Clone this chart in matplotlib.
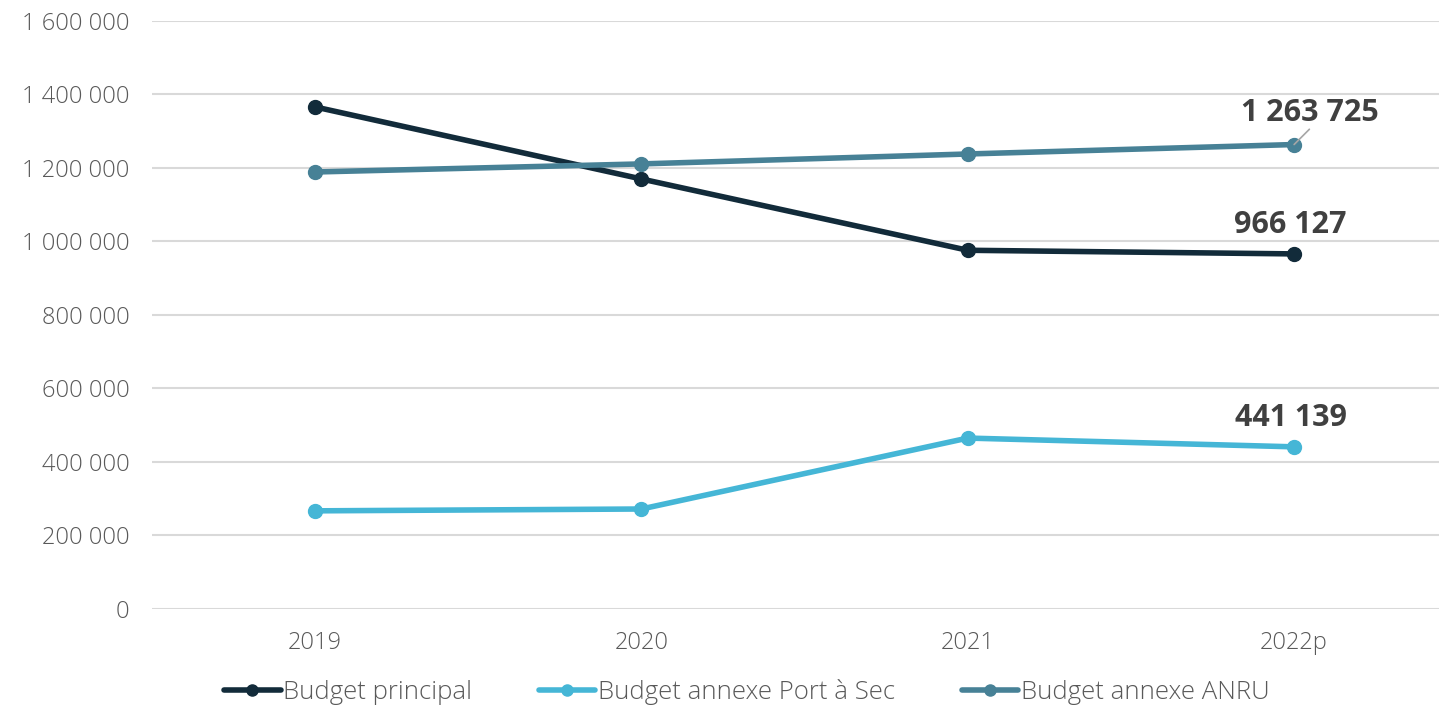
import matplotlib.pyplot as plt
from matplotlib.ticker import FuncFormatter

years = ["2019", "2020", "2021", "2022p"]
budget_principal = [1366000, 1170000, 976000, 966127]
budget_port_sec = [267000, 272000, 465000, 441139]
budget_anru = [1189000, 1211000, 1238000, 1263725]

series = [
    ("Budget principal", budget_principal, "#122b3a"),
    ("Budget annexe Port à Sec", budget_port_sec, "#45b6d6"),
    ("Budget annexe ANRU", budget_anru, "#478196"),
]

plt.rcParams["font.family"] = ["Open Sans", "DejaVu Sans"]


def fr_thousands(v, pos=None):
    return f"{int(v):,}".replace(",", " ")


fig = plt.figure(figsize=(14.39, 7.10), dpi=100)
ax = fig.add_axes([0.1056, 0.1423, 0.8944, 0.8282])

x = list(range(len(years)))
for name, vals, color in series:
    ax.plot(x, vals, color=color, lw=4, marker="o", ms=10, label=name,
            solid_capstyle="round")

ax.set_ylim(0, 1600000)
ax.set_xlim(-0.5, 3.444)
ax.set_yticks(range(0, 1600001, 200000))
ax.yaxis.set_major_formatter(FuncFormatter(fr_thousands))
ax.set_xticks(x)
ax.set_xticklabels(years)
ax.grid(axis="y", color="#d9d9d9", lw=1.5)
ax.set_axisbelow(True)
for s in ax.spines.values():
    s.set_visible(False)
ax.tick_params(length=0, labelsize=17, labelcolor="#595959")
ax.tick_params(axis="x", pad=16)
ax.tick_params(axis="y", pad=16)
for lab in ax.get_xticklabels() + ax.get_yticklabels():
    lab.set_fontweight("light")

# end-point labels
last = len(years) - 1
ax.annotate(fr_thousands(budget_anru[last]), (last, budget_anru[last]),
            xytext=(11, 23), textcoords="offset points", ha="center", va="center",
            fontsize=22, fontweight="bold", color="#404040")
ax.annotate("", (last, budget_anru[last]), xytext=(11, 11),
            textcoords="offset points",
            arrowprops=dict(arrowstyle="-", color="#a6a6a6", lw=1.2,
                            shrinkA=0, shrinkB=0))
ax.annotate(fr_thousands(budget_principal[last]), (last, budget_principal[last]),
            xytext=(-3, 21), textcoords="offset points", ha="center", va="center",
            fontsize=22, fontweight="bold", color="#404040")
ax.annotate(fr_thousands(budget_port_sec[last]), (last, budget_port_sec[last]),
            xytext=(-2, 21), textcoords="offset points", ha="center", va="center",
            fontsize=22, fontweight="bold", color="#404040")

leg = fig.legend(loc="center", bbox_to_anchor=(0.519, 0.025), ncol=3, frameon=False,
                 fontsize=18.5, handlelength=2.2, handletextpad=0.1, columnspacing=2.6,
                 markerscale=0.8)
for t in leg.get_texts():
    t.set_color("#595959")
    t.set_fontweight("light")

fig.savefig("out.png", dpi=100)
